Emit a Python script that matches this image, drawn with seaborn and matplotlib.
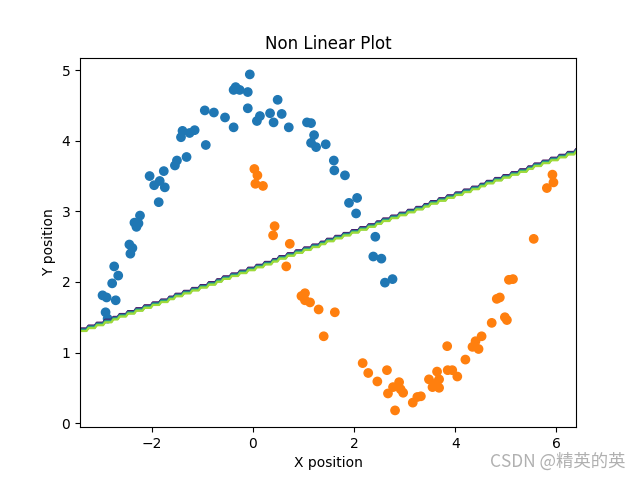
import numpy as np
import pandas as pd
import matplotlib
matplotlib.use("Agg")
import matplotlib.pyplot as plt
import seaborn as sns

# class 0 (blue)
x0 = [-2.97, -2.89, -2.91, -2.87, -2.71, -2.78, -2.74, -2.66, -2.44, -2.42, -2.38,
      -2.34, -2.30, -2.26, -2.23, -2.04, -1.95, -1.84, -1.86, -1.76, -1.74, -1.54,
      -1.50, -1.31, -1.42, -1.39, -1.25, -1.15, -0.95, -0.93, -0.77, -0.55, -0.38,
      -0.38, -0.34, -0.26, -0.10, -0.06, -0.10, 0.08, 0.14, 0.34, 0.41, 0.49, 0.57,
      0.71, 1.07, 1.15, 1.15, 1.21, 1.25, 1.44, 1.60, 1.61, 1.82, 1.90, 2.06, 2.04,
      2.42, 2.38, 2.54, 2.61, 2.76]
y0 = [1.81, 1.78, 1.57, 1.48, 1.74, 1.98, 2.22, 2.09, 2.53, 2.40, 2.48,
      2.84, 2.78, 2.83, 2.94, 3.50, 3.37, 3.43, 3.13, 3.57, 3.34, 3.65,
      3.72, 3.77, 4.05, 4.14, 4.11, 4.15, 4.43, 3.94, 4.40, 4.33, 4.19,
      4.72, 4.76, 4.72, 4.46, 4.94, 4.69, 4.28, 4.35, 4.39, 4.26, 4.58, 4.38,
      4.19, 4.26, 4.25, 3.97, 4.08, 3.91, 3.95, 3.72, 3.58, 3.51, 3.12, 3.19, 2.97,
      2.64, 2.36, 2.33, 1.99, 2.04]

# class 1 (orange)
x1 = [0.03, 0.09, 0.05, 0.20, 0.43, 0.40, 0.73, 0.66, 0.96, 1.03, 1.03, 1.13,
      1.30, 1.62, 1.40, 2.17, 2.28, 2.46, 2.65, 2.67, 2.77, 2.89, 2.97, 2.92,
      2.81, 3.16, 3.25, 3.32, 3.48, 3.64, 3.68, 3.55, 3.68, 3.63, 3.84, 3.85,
      3.94, 4.04, 4.20, 4.34, 4.40, 4.46, 4.52, 4.72, 4.82, 4.88, 4.98, 5.02,
      5.06, 5.14, 5.55, 5.81, 5.92, 5.94]
y1 = [3.60, 3.51, 3.39, 3.36, 2.79, 2.66, 2.54, 2.22, 1.80, 1.84, 1.74, 1.71,
      1.61, 1.57, 1.23, 0.85, 0.71, 0.59, 0.75, 0.42, 0.51, 0.58, 0.43, 0.48,
      0.18, 0.29, 0.37, 0.38, 0.62, 0.73, 0.62, 0.51, 0.50, 0.57, 1.09, 0.75,
      0.75, 0.66, 0.90, 1.08, 1.16, 1.05, 1.23, 1.42, 1.76, 1.78, 1.50, 1.46,
      2.03, 2.04, 2.61, 3.33, 3.52, 3.41]

# linear decision boundary y = b0 + b1 * x
b0 = 2.19
b1 = 0.26

df = pd.DataFrame({
    "x": x0 + x1,
    "y": y0 + y1,
    "cls": [0] * len(x0) + [1] * len(x1),
})

fig, ax = plt.subplots(figsize=(6.4, 4.8), dpi=100)

sns.scatterplot(data=df, x="x", y="y", hue="cls", palette=["#1f77b4", "#ff7f0e"],
                s=36, linewidth=1, edgecolor="face", ax=ax, legend=False)
xl = ax.get_xlim()
yl = ax.get_ylim()

h = 0.041
gx = np.arange(xl[0] - 0.2, xl[1] + 0.2, h)
gy = np.arange(yl[0] - 0.2, yl[1] + 0.2, h)
xx, yy = np.meshgrid(gx, gy)
Z = (yy < b0 + b1 * xx).astype(float)
ax.contour(xx, yy, Z, cmap="viridis")
ax.set_xlim(xl)
ax.set_ylim(yl)

ax.set_title("Non Linear Plot")
ax.set_xlabel("X position")
ax.set_ylabel("Y position")

fig.text(0.977, 0.038, "CSDN @精英的英", ha="right", va="center", fontsize=12.5,
         color="#b0b0b0", family=["Noto Sans CJK SC", "DejaVu Sans"])

fig.savefig("out.png", dpi=100)
